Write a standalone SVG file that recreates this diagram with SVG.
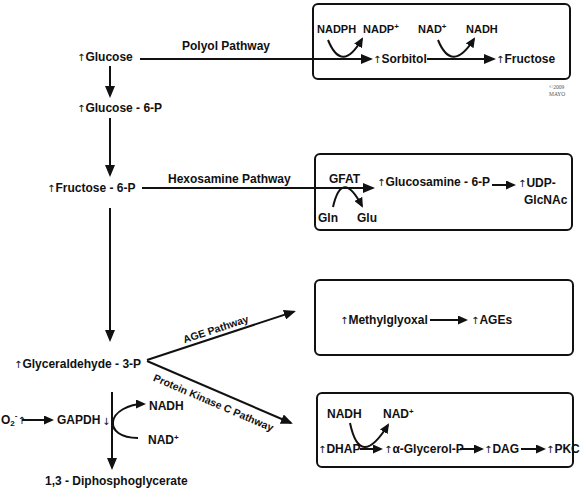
<svg xmlns="http://www.w3.org/2000/svg" width="580" height="493" viewBox="0 0 580 493">
<style>
text{font-family:"Liberation Sans",Arial,sans-serif;font-weight:bold;font-size:12px;fill:#111}
.s{font-size:11px}
.p{font-size:10.5px}
.up{font-family:"DejaVu Sans",sans-serif;font-weight:normal;font-size:10px}
.box{fill:#fff;stroke:#111;stroke-width:2}
.ln{fill:none;stroke:#111;stroke-width:2}
.mayo{font-family:"Liberation Serif",serif;font-weight:normal;font-size:5.5px;fill:#555}
</style>
<defs>
<marker id="ah" markerUnits="userSpaceOnUse" markerWidth="13" markerHeight="10" refX="10" refY="5" orient="auto">
<path d="M0,0 L12,5 L0,10 z" fill="#111"/>
</marker>
<marker id="as" markerUnits="userSpaceOnUse" markerWidth="11" markerHeight="9" refX="8" refY="4.5" orient="auto">
<path d="M0,0 L10,4.5 L0,9 z" fill="#111"/>
</marker>
</defs>
<rect width="580" height="493" fill="#fff"/>

<g id="box-polyol">
<rect class="box" x="313" y="4" width="257" height="75" rx="5"/>
<text class="s" x="317" y="33">NADPH</text>
<text class="s" x="363" y="33">NADP<tspan font-size="8" dy="-4">+</tspan></text>
<text class="s" x="418" y="33">NAD<tspan font-size="8" dy="-4">+</tspan></text>
<text class="s" x="466" y="33">NADH</text>
<text x="373" y="63"><tspan class="up">↑</tspan>Sorbitol</text>
<text x="496" y="63"><tspan class="up">↑</tspan>Fructose</text>
</g>
<text class="mayo" x="549" y="89">©2009</text>
<text class="mayo" x="549" y="96">MAYO</text>

<g id="box-hexosamine">
<rect class="box" x="315" y="154" width="257" height="76" rx="5"/>
<text x="329" y="183">GFAT</text>
<text x="377" y="186"><tspan class="up">↑</tspan>Glucosamine - 6-P</text>
<text x="518" y="187"><tspan class="up">↑</tspan>UDP-</text>
<text x="524" y="204">GlcNAc</text>
<text x="318" y="222">Gln</text>
<text x="357" y="222">Glu</text>
</g>

<g id="box-age">
<rect class="box" x="315" y="280" width="258" height="75" rx="5"/>
<text x="340" y="324"><tspan class="up">↑</tspan>Methylglyoxal</text>
<text x="471" y="324"><tspan class="up">↑</tspan>AGEs</text>
</g>

<g id="box-pkc">
<rect class="box" x="317" y="393" width="256" height="74" rx="5"/>
<text x="327" y="418">NADH</text>
<text x="383" y="418">NAD<tspan font-size="8" dy="-4">+</tspan></text>
<text x="318" y="453"><tspan class="up">↑</tspan>DHAP</text>
<text x="384" y="453"><tspan class="up">↑</tspan>α-Glycerol-P</text>
<text x="484" y="453"><tspan class="up">↑</tspan>DAG</text>
<text x="546" y="453"><tspan class="up">↑</tspan>PKC</text>
</g>

<g id="glucose"><text x="77" y="61"><tspan class="up">↑</tspan>Glucose</text></g>
<g id="glucose6p"><text x="77" y="112"><tspan class="up">↑</tspan>Glucose - 6-P</text></g>
<g id="fructose6p"><text x="47" y="192"><tspan class="up">↑</tspan>Fructose - 6-P</text></g>
<g id="glyceraldehyde3p"><text x="14" y="368"><tspan class="up">↑</tspan>Glyceraldehyde - 3-P</text></g>
<g id="gapdh">
<text x="1" y="424">O<tspan font-size="8" dy="2">2</tspan><tspan font-size="8" dy="-8">-</tspan><tspan class="up" dy="6">↑</tspan></text>
<text x="57" y="424">GAPDH</text>
<text class="up" x="102" y="425" font-size="9">↓</text>
<text x="149" y="410">NADH</text>
<text x="148" y="444">NAD<tspan font-size="8" dy="-4">+</tspan></text>
</g>
<g id="diphosphoglycerate"><text x="45" y="485">1,3 - Diphosphoglycerate</text></g>

<g id="labels">
<text x="182" y="50">Polyol Pathway</text>
<text x="168" y="183">Hexosamine Pathway</text>
<text class="p" text-anchor="middle" transform="translate(217,332.5) rotate(-18.2)">AGE Pathway</text>
<text class="p" text-anchor="middle" transform="translate(212,406) rotate(23.3)">Protein Kinase C Pathway</text>
</g>

<g id="connectors">
<line class="ln" x1="110" y1="66" x2="110" y2="96" marker-end="url(#ah)"/>
<line class="ln" x1="110" y1="118" x2="110" y2="175" marker-end="url(#ah)"/>
<line class="ln" x1="110" y1="208" x2="110" y2="340" marker-end="url(#ah)"/>
<line class="ln" x1="112" y1="392" x2="112" y2="468" marker-end="url(#ah)"/>
<line class="ln" x1="140" y1="59" x2="371" y2="59" marker-end="url(#ah)"/>
<line class="ln" x1="427" y1="59" x2="494" y2="59" marker-end="url(#ah)"/>
<line class="ln" x1="142" y1="188" x2="373" y2="188" marker-end="url(#ah)"/>
<line class="ln" x1="492" y1="185" x2="514" y2="185" marker-end="url(#as)"/>
<line class="ln" x1="147" y1="360" x2="294" y2="311.6" marker-end="url(#ah)"/>
<line class="ln" x1="147" y1="361" x2="291" y2="423" marker-end="url(#ah)"/>
<line class="ln" x1="430" y1="320" x2="466" y2="320" marker-end="url(#as)"/>
<line class="ln" x1="360" y1="449" x2="381" y2="449" marker-end="url(#as)"/>
<line class="ln" x1="460" y1="449" x2="482" y2="449" marker-end="url(#as)"/>
<line class="ln" x1="521" y1="449" x2="544" y2="449" marker-end="url(#as)"/>
<line class="ln" x1="22" y1="420" x2="52" y2="420" marker-end="url(#as)"/>
<path class="ln" d="M328,40 Q342,74 362,39" marker-end="url(#as)"/>
<path class="ln" d="M438,40 Q452,74 474,39" marker-end="url(#as)"/>
<path class="ln" d="M333,207 Q342,168 362,206" marker-end="url(#as)"/>
<path class="ln" d="M350,423 Q360,470 388,425" marker-end="url(#as)"/>
<path class="ln" d="M138,438 C120,438 112,430 113,422 C114,412 128,404 144,404" marker-end="url(#as)"/>
</g>
</svg>
